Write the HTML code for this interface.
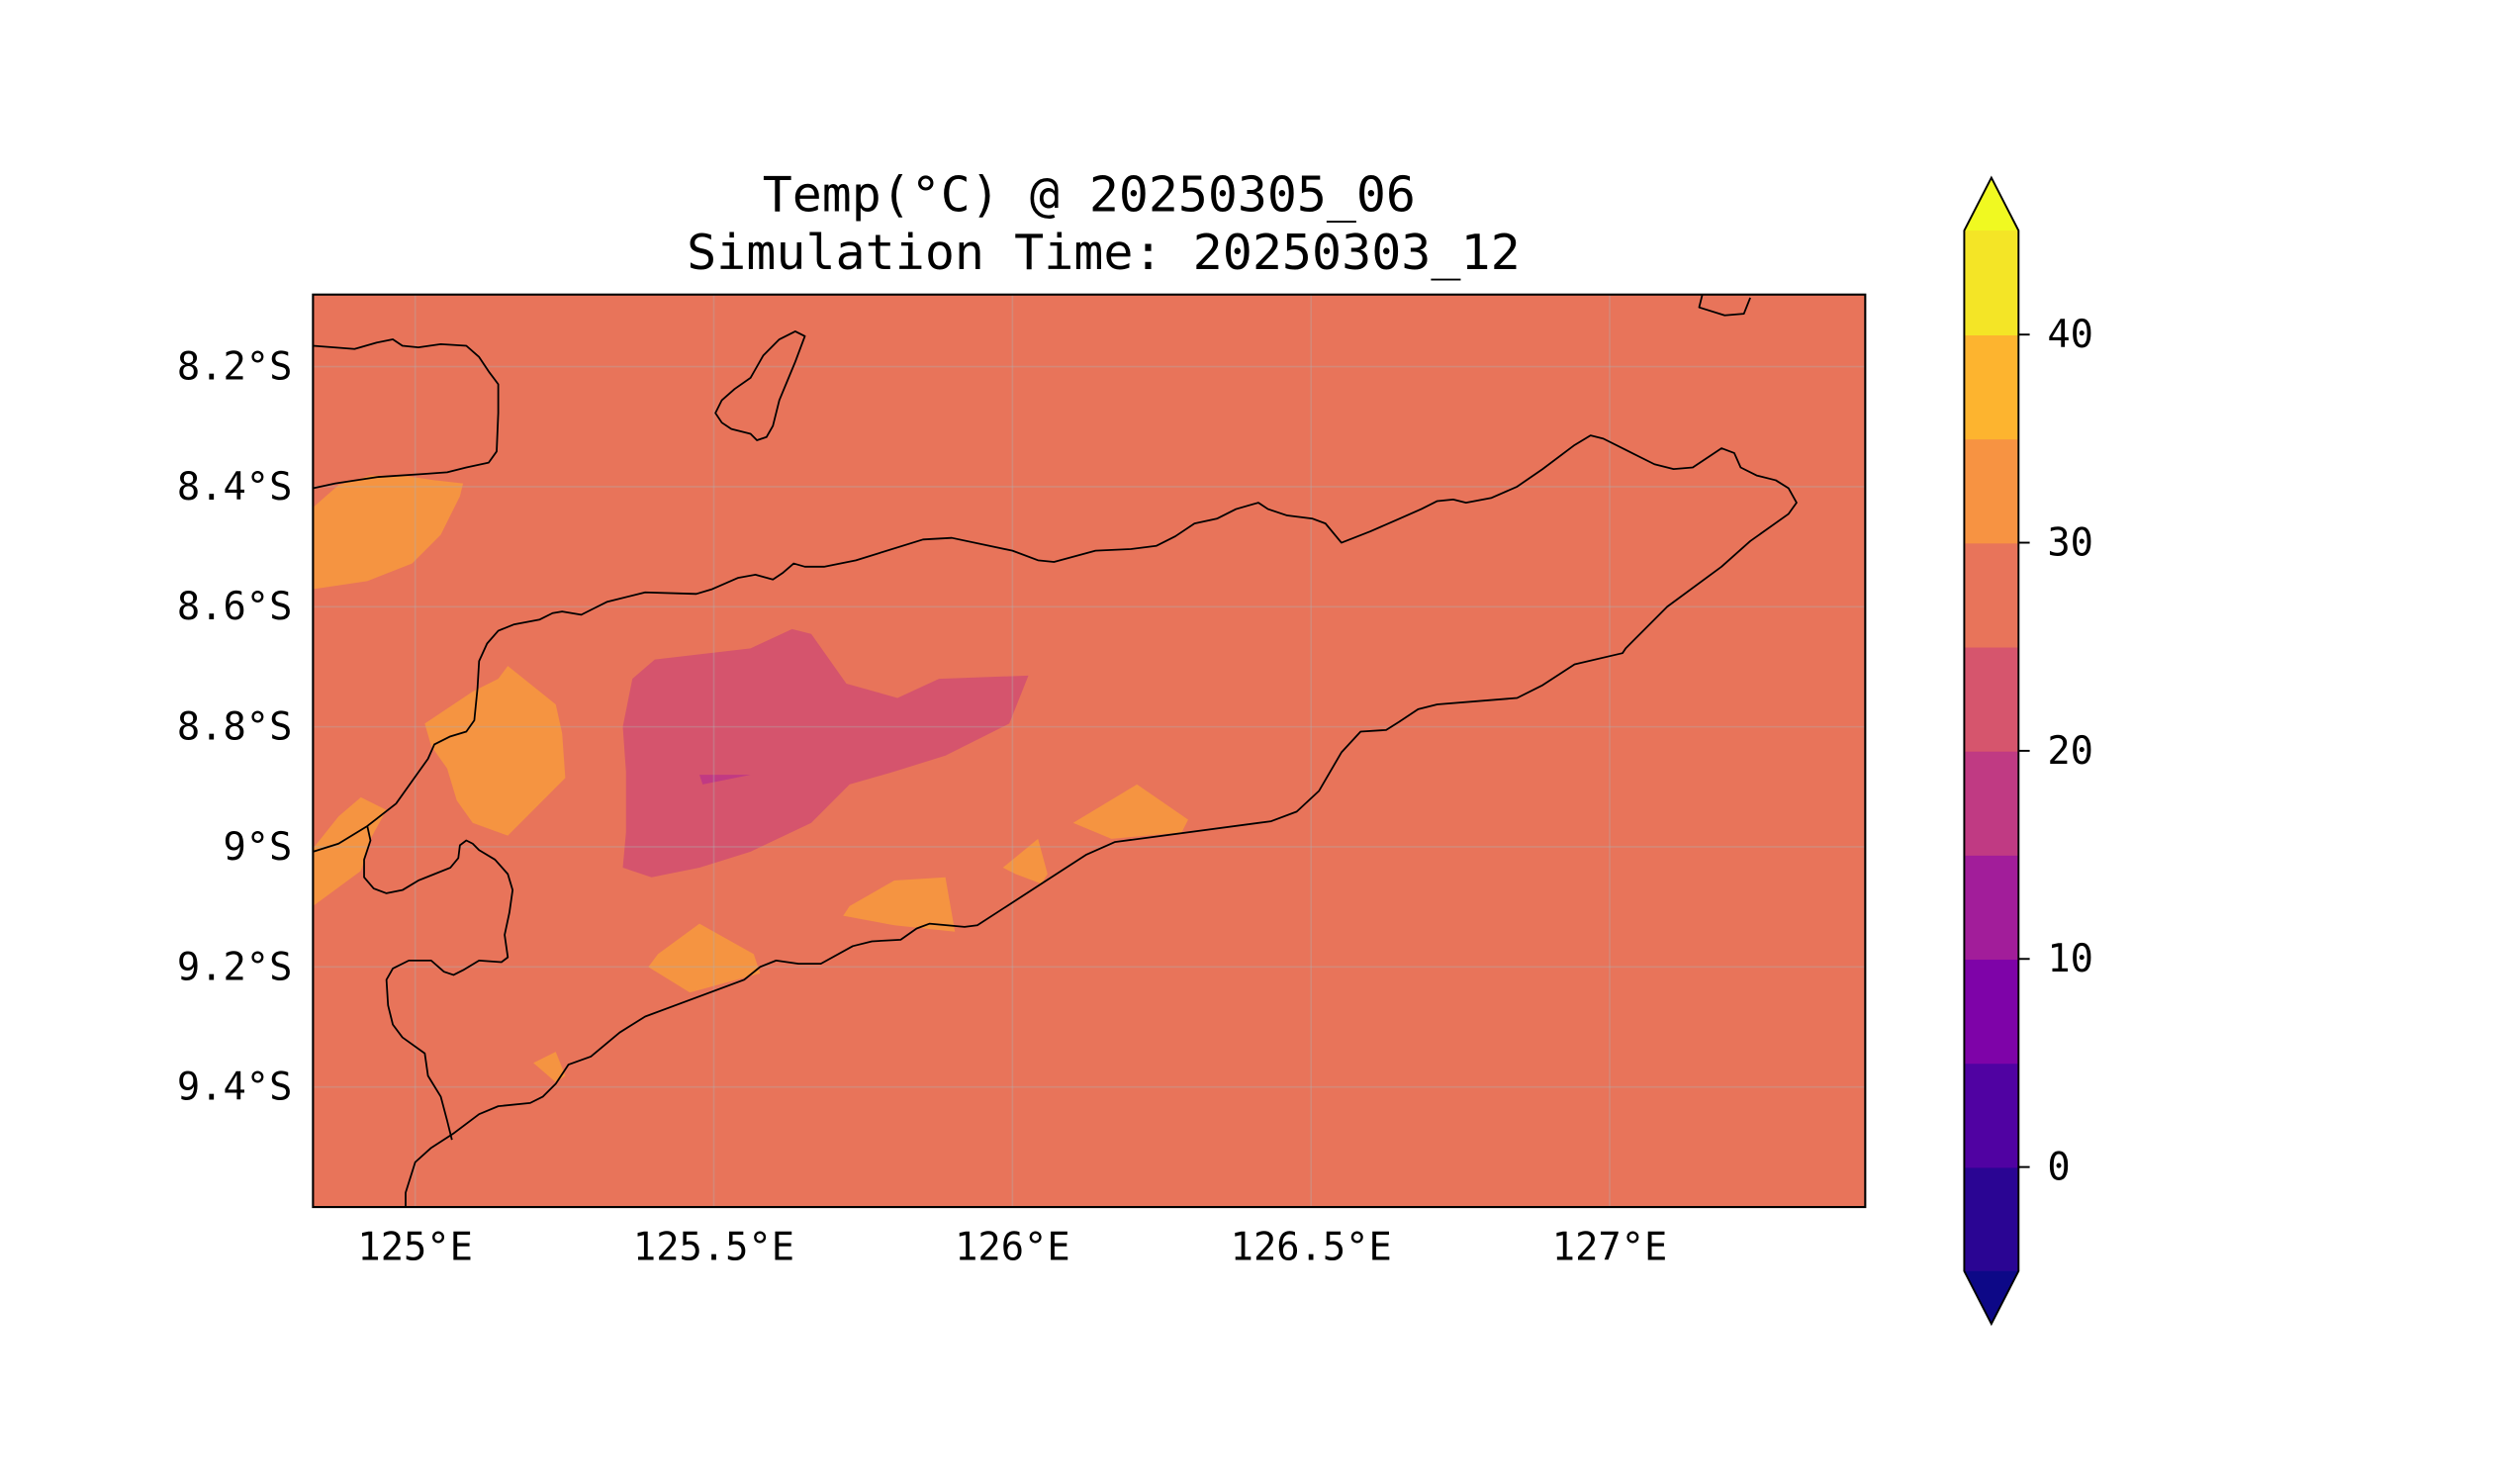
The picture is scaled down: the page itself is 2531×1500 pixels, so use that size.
<!DOCTYPE html>
<html><head><meta charset="utf-8"><style>
html,body{margin:0;padding:0;background:#fff;}
svg{display:block;}
text{font-family:"DejaVu Sans Mono","Liberation Mono",monospace;fill:#000;}
</style></head><body>
<svg id="fig" width="2531" height="1500" viewBox="0 0 1568 927" preserveAspectRatio="none" xmlns="http://www.w3.org/2000/svg">
<text x="682" y="132" font-size="30" text-anchor="middle" textLength="409" lengthAdjust="spacingAndGlyphs">Temp(°C) @ 20250305_06</text>
<text x="691" y="168" font-size="30" text-anchor="middle" textLength="522" lengthAdjust="spacingAndGlyphs">Simulation Time: 20250303_12</text>
<g id="plot">
<rect x="196" y="184" width="972" height="570" fill="#e8745a"/>
<g id="patches">
<path fill="#f59441" d="M196,317 L212,303 L232,297 L252,297 L272,300 L290,302 L288,310 L276,334 L258,352 L230,363 L196,368Z"/>
<path fill="#f59441" d="M318,416 L348,440 L352,458 L354,486 L340,500 L318,522 L296,514 L286,500 L280,480 L270,466 L266,452 L296,432 L312,424Z"/>
<path fill="#f59441" d="M196,530 L212,510 L226,498 L242,506 L232,524 L226,544 L196,566Z"/>
<path fill="#f59441" d="M438,577 L472,596 L476,608 L432,620 L406,604 L412,596Z"/>
<path fill="#f59441" d="M560,550 L592,548 L598,582 L560,578 L528,572 L532,566Z"/>
<path fill="#f59441" d="M650,524 L656,546 L652,552 L636,546 L628,542Z"/>
<path fill="#f59441" d="M712,490 L744,512 L740,520 L696,524 L672,514Z"/>
<path fill="#f59441" d="M348,657 L354,672 L348,676 L334,664Z"/>
<path fill="#d5546d" d="M410,412 L470,405 L496,393 L508,396 L530,427 L562,436 L588,424 L644,422 L632,452 L592,472 L560,482 L532,490 L508,514 L470,532 L438,542 L408,548 L390,542 L392,520 L392,482 L390,454 L396,424Z"/>
<path fill="#c13a83" d="M438,484 L470,484 L440,490Z"/>
</g>
<g id="grid" stroke="#b0b0b0" stroke-opacity="0.35" stroke-width="1"></g>
<g fill="none" stroke="#000" stroke-width="1.1" stroke-linejoin="round">
<path d="M196,532 L212,527 L230,516 L248,502 L258,488 L268,474 L272,465 L282,460 L292,457 L297,450 L299,430 L300,413 L305,402 L312,394 L322,390 L338,387 L346,383 L352,382 L364,384 L372,380 L380,376 L404,370 L436,371 L446,368 L462,361 L473,359 L484,362 L490,358 L497,352 L504,354 L516,354 L536,350 L578,337 L596,336 L634,344 L650,350 L660,351 L686,344 L708,343 L724,341 L736,335 L748,327 L762,324 L774,318 L788,314 L794,318 L806,322 L822,324 L830,327 L840,339 L858,332 L874,325 L890,318 L900,313 L910,312 L918,314 L934,311 L950,304 L966,293 L986,278 L996,272 L1004,274 L1018,281 L1036,290 L1048,293 L1060,292 L1078,280 L1086,283 L1090,292 L1100,297 L1112,300 L1120,305 L1125,314 L1120,321 L1096,338 L1078,354 L1044,379 L1018,405 L1016,408 L986,415 L966,428 L950,436 L900,440 L888,443 L876,451 L868,456 L852,457 L840,470 L826,494 L812,507 L796,513 L698,526 L680,534 L612,578 L604,579 L582,577 L574,580 L564,587 L546,588 L534,591 L514,602 L500,602 L486,600 L476,604 L466,612 L404,635 L388,645 L370,660 L356,665 L348,677 L340,685 L332,689 L312,691 L300,696 L284,708 L270,717 L260,726 L254,745 L254,754"/>
<path d="M230,516 L232,525 L228,537 L228,548 L234,555 L242,558 L252,556 L262,550 L272,546 L282,542 L287,536 L288,528 L292,525 L296,527 L300,531 L310,537 L318,546 L321,556 L319,570 L316,584 L318,598 L314,601 L300,600 L290,606 L284,609 L278,607 L270,600 L256,600 L246,605 L242,612 L243,628 L246,640 L252,648 L266,658 L268,672 L276,685 L280,700 L283,712"/>
<path d="M196,216 L222,218 L236,214 L246,212 L252,216 L262,217 L276,215 L292,216 L300,223 L306,232 L312,240 L312,258 L311,282 L306,289 L292,292 L280,295 L266,296 L236,298 L210,302 L196,305"/>
<path d="M498,207 L504,210 L498,226 L488,250 L484,266 L480,273 L474,275 L470,271 L458,268 L452,264 L448,258 L452,250 L460,243 L470,236 L478,222 L488,212Z"/>
<path d="M1066,184 L1064,192 L1080,197 L1092,196 L1096,186"/>
</g>
<rect x="196" y="184" width="972" height="570" fill="none" stroke="#000" stroke-width="1.3"/>
<g id="xticks"></g>
<g id="yticks"></g>
</g>
<g id="cbar"></g>
</svg>
<script>
const lonTicks=[125,125.5,126,126.5,127];
const lonLabels=["125°E","125.5°E","126°E","126.5°E","127°E"];
const latTicks=[-8.2,-8.4,-8.6,-8.8,-9.0,-9.2,-9.4];
const latLabels=["8.2°S","8.4°S","8.6°S","8.8°S","9°S","9.2°S","9.4°S"];
const levels=[-5,0,5,10,15,20,25,30,35,40,45];
const levelColors=["#2a0593","#5002a2","#7e03a8","#a21d9a","#c03a83","#d6556d","#e8745a","#f79342","#fdb42f","#f4e526"];
const cbarTicks=[0,10,20,30,40];
const underColor="#0d0887", overColor="#f0f921";
const NS="http://www.w3.org/2000/svg";
function X(lon){return 260+(lon-125)*374;}
function Y(lat){return 229+(-8.2-lat)*375;}
function CY(v){return 794-(v-(-5))*13;}
function mk(t,a,p){const e=document.createElementNS(NS,t);for(const k in a)e.setAttribute(k,a[k]);p.appendChild(e);return e;}
const grid=document.getElementById('grid'),xt=document.getElementById('xticks'),yt=document.getElementById('yticks'),cb=document.getElementById('cbar');
lonTicks.forEach((v,i)=>{const x=X(v);
 const g=mk('line',{x1:x,x2:x,y1:184,y2:754},grid);
 
 
 const t=mk('text',{x:x,y:787,'font-size':24,'text-anchor':'middle'},xt);t.textContent=lonLabels[i];
 
 
});
latTicks.forEach((v,i)=>{const y=Y(v);
 const g=mk('line',{x1:196,x2:1168,y1:y,y2:y},grid);
 
 
 const t=mk('text',{x:183,y:y+8,'font-size':24,'text-anchor':'end'},yt);t.textContent=latLabels[i];
 
 
});
for(let i=0;i<levelColors.length;i++){
 const r=mk('rect',{x:1230,y:CY(levels[i+1]),width:34,height:CY(levels[i])-CY(levels[i+1])+0.5,fill:levelColors[i]},cb);
 
 
}
const topArrow=mk('path',{d:`M1230,${CY(45)} L1247,111 L1264,${CY(45)}Z`,fill:overColor},cb);


const botArrow=mk('path',{d:`M1230,${CY(-5)} L1247,827 L1264,${CY(-5)}Z`,fill:underColor},cb);


const cbOutline=mk('path',{d:`M1230,${CY(45)} L1247,111 L1264,${CY(45)} L1264,${CY(-5)} L1247,827 L1230,${CY(-5)}Z`,fill:'none',stroke:'#000','stroke-width':1.2},cb);


cbarTicks.forEach(v=>{const y=CY(v);
 const l=mk('line',{x1:1264,x2:1271,y1:y,y2:y,stroke:'#000','stroke-width':1.2},cb);
 
 
 const t=mk('text',{x:1282,y:y+8,'font-size':24},cb);t.textContent=String(v);
 
 
});
</script>
</body></html>
